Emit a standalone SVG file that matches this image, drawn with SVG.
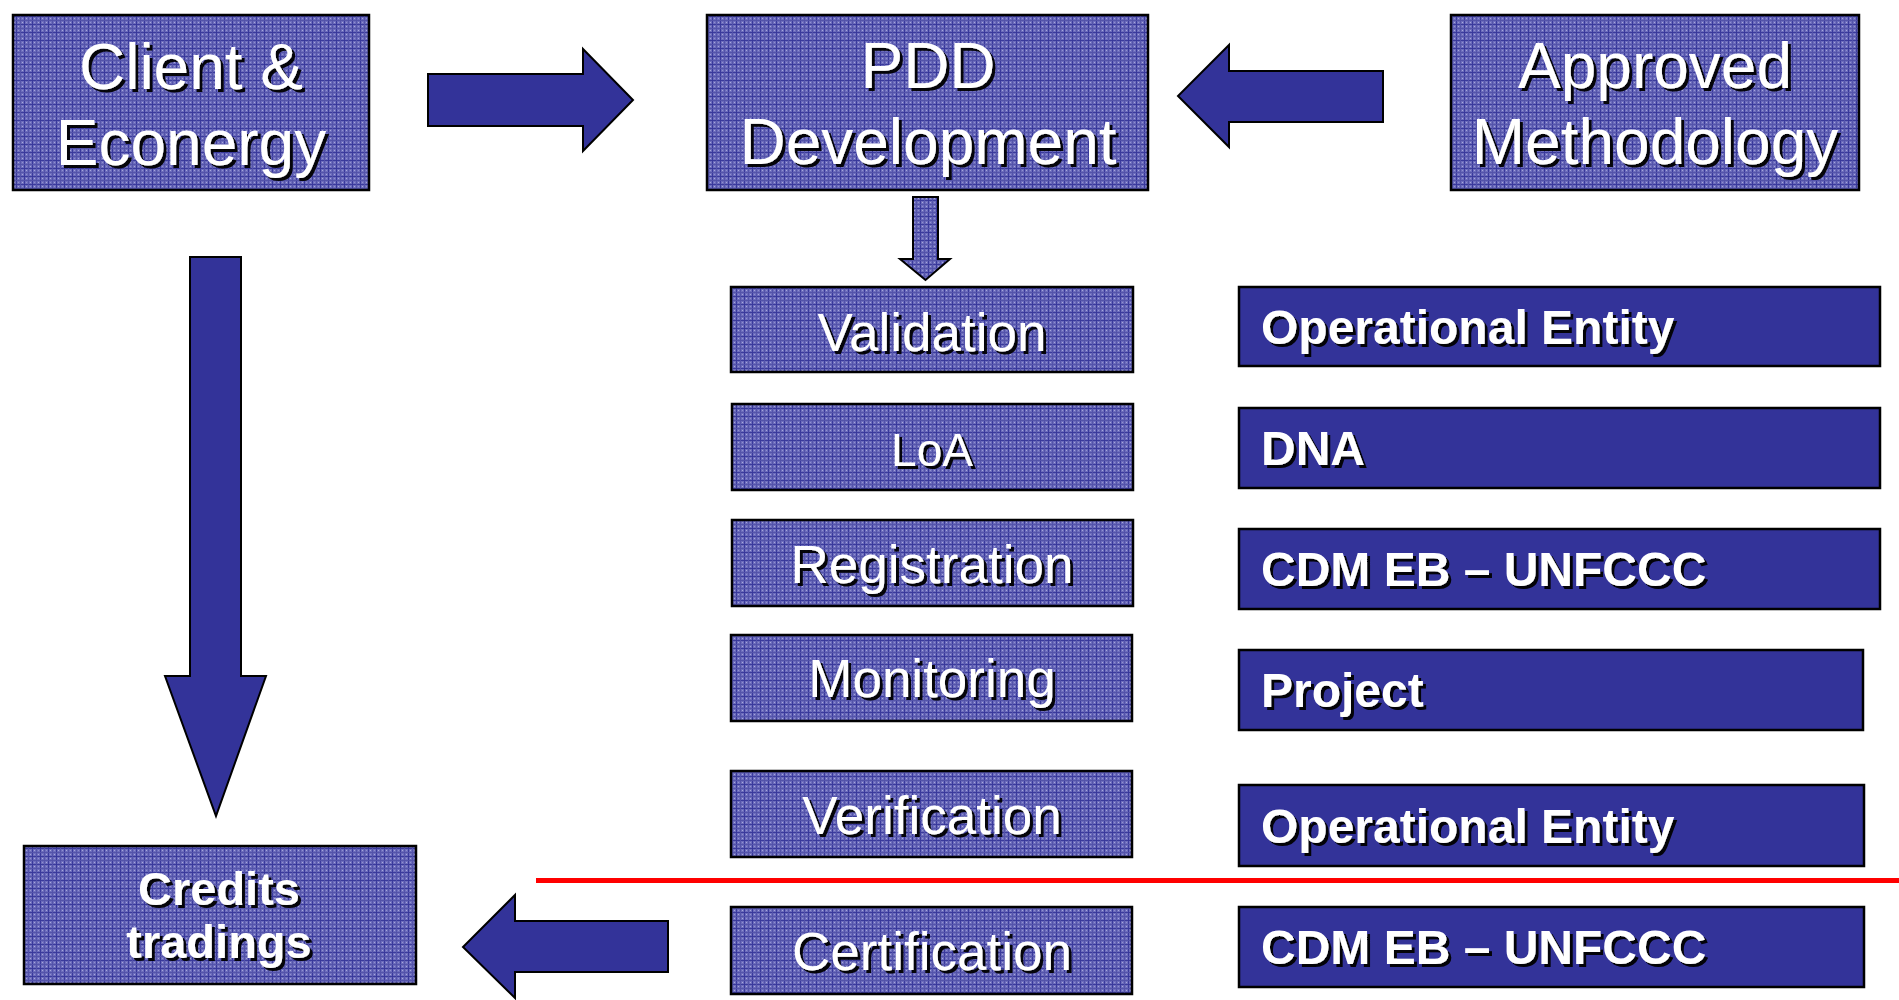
<svg xmlns="http://www.w3.org/2000/svg" width="1899" height="1000" viewBox="0 0 1899 1000">
<style>
.pat{fill:url(#grid);stroke:#000;stroke-width:2.5}
.solid{fill:#333399;stroke:#000;stroke-width:2.5}
.arrow{fill:#333399;stroke:#000;stroke-width:2}
.big{font-family:"Liberation Sans",Arial,sans-serif;font-size:64px;fill:#fff;text-anchor:middle;filter:url(#sh)}
.mid{font-family:"Liberation Sans",Arial,sans-serif;font-size:53px;fill:#fff;text-anchor:middle;filter:url(#sh)}
.bold{font-family:"Liberation Sans",Arial,sans-serif;font-size:48px;font-weight:bold;fill:#fff;filter:url(#sh)}
.cred{font-family:"Liberation Sans",Arial,sans-serif;font-size:47px;font-weight:bold;fill:#fff;text-anchor:middle;filter:url(#sh)}
</style>
<defs>
<pattern id="grid" width="8" height="8" patternUnits="userSpaceOnUse">
<rect width="8" height="8" fill="#6c6cbc"/>
<rect x="0" y="0" width="8" height="1" fill="#3a3a9c"/>
<rect x="0" y="0" width="1" height="8" fill="#3a3a9c"/>
<rect x="4" y="0" width="1" height="8" fill="#5454aa"/>
<rect x="0" y="4" width="8" height="1" fill="#5454aa"/>
<rect x="2" y="2" width="1" height="1" fill="#a8a8dc"/>
<rect x="6" y="6" width="1" height="1" fill="#a8a8dc"/>
<rect x="6" y="2" width="1" height="1" fill="#9090d0"/>
<rect x="2" y="6" width="1" height="1" fill="#9090d0"/>
</pattern>
<filter id="sh" x="-10%" y="-20%" width="130%" height="150%">
<feDropShadow dx="3" dy="3" stdDeviation="0.6" flood-color="#000" flood-opacity="0.95"/>
</filter>
</defs>
<rect width="1899" height="1000" fill="#fff"/>

<g id="connectors">
<polygon class="arrow" points="428,74 583,74 583,49 633,100 583,151 583,126 428,126"/>
<polygon class="arrow" points="1383,71 1229,71 1229,45 1178,96 1229,147 1229,122 1383,122"/>
<polygon class="pat" style="stroke-width:2" points="913,197 938,197 938,259 950,259 925.5,280 900,259 913,259"/>
<polygon class="arrow" points="190,257 241,257 241,676 266,676 216,816 165,676 190,676"/>
<polygon class="arrow" points="668,921 515,921 515,895 463,947 515,998 515,972 668,972"/>
<line x1="536" y1="880.5" x2="1899" y2="880.5" stroke="#ff0000" stroke-width="5"/>
</g>

<g id="client">
<rect class="pat" x="13" y="15" width="356" height="175"/>
<text class="big" x="191" y="89">Client &amp;</text>
<text class="big" x="191" y="165">Econergy</text>
</g>
<g id="pdd">
<rect class="pat" x="707" y="15" width="441" height="175"/>
<text class="big" x="928" y="88">PDD</text>
<text class="big" x="928" y="164">Development</text>
</g>
<g id="methodology">
<rect class="pat" x="1451" y="15" width="408" height="175"/>
<text class="big" x="1655" y="88">Approved</text>
<text class="big" x="1655" y="164">Methodology</text>
</g>

<g id="validation">
<rect class="pat" x="731" y="287" width="402" height="85"/>
<text class="mid" x="932" y="351">Validation</text>
</g>
<g id="loa">
<rect class="pat" x="732" y="404" width="401" height="86"/>
<text class="mid" style="font-size:46px" x="932" y="466">LoA</text>
</g>
<g id="registration">
<rect class="pat" x="732" y="520" width="401" height="86"/>
<text class="mid" x="932" y="583">Registration</text>
</g>
<g id="monitoring">
<rect class="pat" x="731" y="635" width="401" height="86"/>
<text class="mid" x="932" y="697">Monitoring</text>
</g>
<g id="verification">
<rect class="pat" x="731" y="771" width="401" height="86"/>
<text class="mid" x="932" y="834">Verification</text>
</g>
<g id="certification">
<rect class="pat" x="731" y="907" width="401" height="87"/>
<text class="mid" x="932" y="970">Certification</text>
</g>

<g id="oe1">
<rect class="solid" x="1239" y="287" width="641" height="79"/>
<text class="bold" x="1261" y="344">Operational Entity</text>
</g>
<g id="dna">
<rect class="solid" x="1239" y="408" width="641" height="80"/>
<text class="bold" x="1261" y="465">DNA</text>
</g>
<g id="cdm1">
<rect class="solid" x="1239" y="529" width="641" height="80"/>
<text class="bold" x="1261" y="586">CDM EB – UNFCCC</text>
</g>
<g id="project">
<rect class="solid" x="1239" y="650" width="624" height="80"/>
<text class="bold" x="1261" y="707">Project</text>
</g>
<g id="oe2">
<rect class="solid" x="1239" y="785" width="625" height="81"/>
<text class="bold" x="1261" y="843">Operational Entity</text>
</g>
<g id="cdm2">
<rect class="solid" x="1239" y="907" width="625" height="80"/>
<text class="bold" x="1261" y="964">CDM EB – UNFCCC</text>
</g>

<g id="credits">
<rect class="pat" x="24" y="846" width="392" height="138"/>
<text class="cred" x="219" y="905">Credits</text>
<text class="cred" x="219" y="958">tradings</text>
</g>
</svg>
